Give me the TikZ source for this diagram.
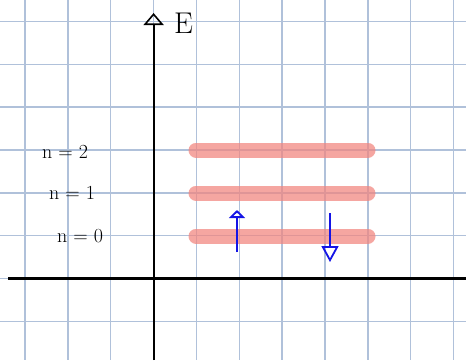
\documentclass[tikz,border=0pt]{standalone}
\usetikzlibrary{arrows.meta}
\definecolor{gridblue}{HTML}{B0C1DA}
\definecolor{barred}{HTML}{F2857E}
\definecolor{penblue}{HTML}{1414E6}
\begin{document}
\begin{tikzpicture}[x=1pt,y=-1pt,
  gridline/.style={gridblue,line width=1.5pt},
  axis/.style={black,line width=2.2pt},
  level/.style={barred,opacity=0.72,line width=15pt,line cap=round},
  pen/.style={penblue,line width=1.8pt},
  lab/.style={font=\fontsize{20}{20}\selectfont,inner sep=0pt}]
\useasboundingbox (0,0) rectangle (466,360);
\fill[white] (0,0) rectangle (466,360);
% grid
\foreach \x in {25,67.9,110.7,153.6,196.4,239.3,282.1,325,367.9,410.7,453.6}
  \draw[gridline] (\x,0) -- (\x,360);
\foreach \y in {21.5,64.3,107.1,150,192.8,235.7,278.5,321.4}
  \draw[gridline] (0,\y) -- (466,\y);
% axes
\coordinate (ytop) at (153.6,13);
\coordinate (ybot) at (153.6,360);
\coordinate (xl) at (8,278.5);
\coordinate (xr) at (466,278.5);
\draw[axis,-{Triangle[open,length=12pt,width=20pt,line width=1.6pt]}] (ybot) -- (ytop);
\draw[axis] (xl) -- (xr);
\node[lab,font=\fontsize{30}{30}\selectfont,anchor=west] (E) at (174,23) {E};
% energy levels
\foreach \y in {150,193,236}
  \draw[level] (196,\y) -- (368,\y);
% labels
\node[lab] (n2) at (65,152) {n = 2};
\node[lab] (n1) at (72,193) {n = 1};
\node[lab] (n0) at (80,236) {n = 0};
% spin arrows
\coordinate (upA) at (237,252);
\coordinate (upB) at (237,210);
\coordinate (dnA) at (330,213);
\coordinate (dnB) at (330,262);
\draw[pen,-{Triangle[open,length=8pt,width=16pt]}] (upA) -- (upB);
\draw[pen,-{Triangle[open,length=16pt,width=17pt]}] (dnA) -- (dnB);
\end{tikzpicture}
\end{document}
